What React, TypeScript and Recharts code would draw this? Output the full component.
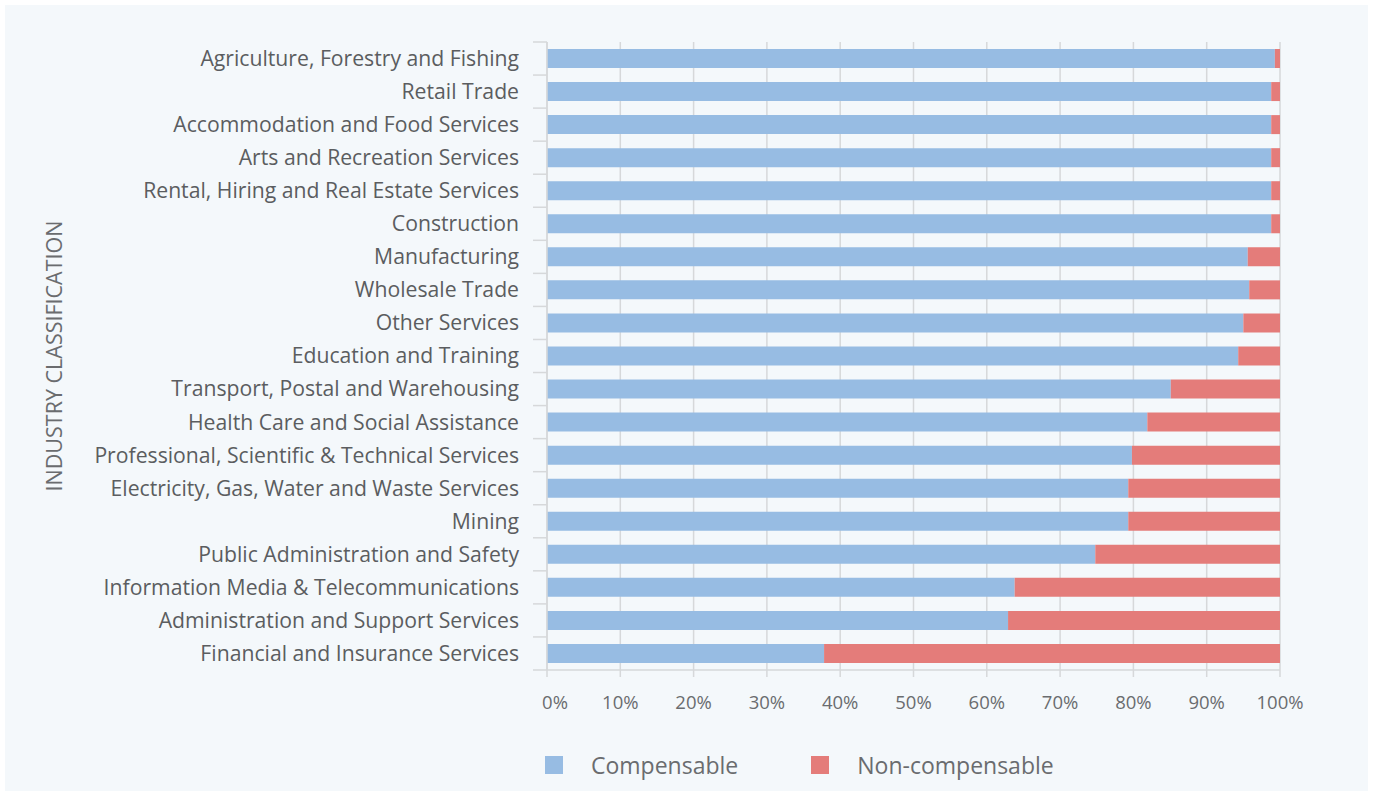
import React from "react"
import {
  Bar,
  BarChart,
  CartesianGrid,
  XAxis,
  YAxis
} from "recharts"

// categorias e valores (em %)
const industries = [
  "Agriculture, Forestry and Fishing",
  "Retail Trade",
  "Accommodation and Food Services",
  "Arts and Recreation Services",
  "Rental, Hiring and Real Estate Services",
  "Construction",
  "Manufacturing",
  "Wholesale Trade",
  "Other Services",
  "Education and Training",
  "Transport, Postal and Warehousing",
  "Health Care and Social Assistance",
  "Professional, Scientific & Technical Services",
  "Electricity, Gas, Water and Waste Services",
  "Mining",
  "Public Administration and Safety",
  "Information Media & Telecommunications",
  "Administration and Support Services",
  "Financial and Insurance Services"
]

const compensable = [
  99.3, 98.8, 98.8, 98.8, 98.8, 98.8, 95.6, 95.8, 95.0, 94.3,
  85.1, 81.9, 79.8, 79.3, 79.3, 74.8, 63.8, 62.9, 37.8
]

const nonCompensable = [
  0.7, 1.2, 1.2, 1.2, 1.2, 1.2, 4.4, 4.2, 5.0, 5.7,
  14.9, 18.1, 20.2, 20.7, 20.7, 25.2, 36.2, 37.1, 62.2
]

const xTicks = [0, 10, 20, 30, 40, 50, 60, 70, 80, 90, 100]

const data = industries.map((name, i) => ({
  name,
  compensable: compensable[i],
  nonCompensable: nonCompensable[i]
}))

const BLUE = "#97BCE3"
const RED = "#E47C7A"
const GRID = "#D6D8DA"
const FONT = "'Open Sans', 'Noto Sans', sans-serif"

const W = 1373
const H = 796
const TOP = 42
const BOTTOM = 670
const BAND = (BOTTOM - TOP) / industries.length

/* ----------------------- TICKS ----------------------- */

function CategoryTick(props: any) {
  const { x, y, payload, index } = props
  const ax = x + 28
  return (
    <g>
      <line x1={ax - 14} x2={ax} y1={y - BAND / 2} y2={y - BAND / 2} stroke={GRID} strokeWidth={1.5} />
      {index === industries.length - 1 && (
        <line x1={ax - 14} x2={ax} y1={y + BAND / 2} y2={y + BAND / 2} stroke={GRID} strokeWidth={1.5} />
      )}
      <text x={x} y={y} dy="0.35em" textAnchor="end" fill="#5b5d60" fontSize={21.2} fontFamily={FONT}>
        {payload.value}
      </text>
    </g>
  )
}

function PercentTick(props: any) {
  const { x, y, payload, index } = props
  // o rótulo 0% fica um pouco deslocado para a direita no original
  const dx = index === 0 ? 8 : 0
  return (
    <text x={x + dx} y={y} dy="0.71em" textAnchor="middle" fill="#6a6c6f" fontSize={18.5} fontFamily={FONT}>
      {`${payload.value}%`}
    </text>
  )
}

function AxisTitle() {
  return (
    <text
      x={53}
      y={356}
      transform="rotate(-90 53 356)"
      textAnchor="middle"
      dominantBaseline="central"
      fill="#6a6c6f"
      fontSize={21.5}
      fontFamily={FONT}
    >
      INDUSTRY CLASSIFICATION
    </text>
  )
}

function ChartLegend() {
  const items = [
    { label: "Compensable", color: BLUE },
    { label: "Non-compensable", color: RED }
  ]
  return (
    <div
      style={{
        position: "absolute",
        left: 545,
        top: 749,
        display: "flex",
        alignItems: "center",
        fontFamily: FONT
      }}
    >
      {items.map((it) => (
        <div key={it.label} style={{ display: "flex", alignItems: "center", marginRight: 73 }}>
          <span style={{ width: 18, height: 18, background: it.color, display: "inline-block", marginRight: 28 }} />
          <span style={{ fontSize: 23, color: "#6a6c6f" }}>{it.label}</span>
        </div>
      ))}
    </div>
  )
}

/* ----------------------- APP ----------------------- */

export default function App() {
  return (
    <div style={{ position: "relative", width: W, height: H, background: "#fff" }}>
      <style>{`body{margin:0}`}</style>
      <div
        style={{
          position: "absolute",
          left: 5,
          top: 5,
          width: 1363,
          height: 786,
          background: "#F4F8FB"
        }}
      />
      <div style={{ position: "absolute", left: 0, top: 0 }}>
        <BarChart
          width={W}
          height={H}
          data={data}
          layout="vertical"
          margin={{ top: TOP, right: 93, bottom: 0, left: 0 }}
          barSize={19}
        >
          <CartesianGrid horizontal={false} stroke={GRID} strokeWidth={1.5} />
          <XAxis
            type="number"
            domain={[0, 100]}
            ticks={xTicks}
            height={H - BOTTOM}
            axisLine={{ stroke: GRID, strokeWidth: 1.5 }}
            tickLine={{ stroke: GRID, strokeWidth: 1.5 }}
            tickSize={7}
            tickMargin={19}
            tick={<PercentTick />}
            interval={0}
          />
          <YAxis
            type="category"
            dataKey="name"
            width={547}
            axisLine={{ stroke: GRID, strokeWidth: 1.5 }}
            tickLine={false}
            tickSize={0}
            tickMargin={28}
            tick={<CategoryTick />}
            interval={0}
          />
          <Bar dataKey="compensable" stackId="a" fill={BLUE} isAnimationActive={false} />
          <Bar dataKey="nonCompensable" stackId="a" fill={RED} isAnimationActive={false} />
          <AxisTitle />
        </BarChart>
      </div>
      <ChartLegend />
    </div>
  )
}
